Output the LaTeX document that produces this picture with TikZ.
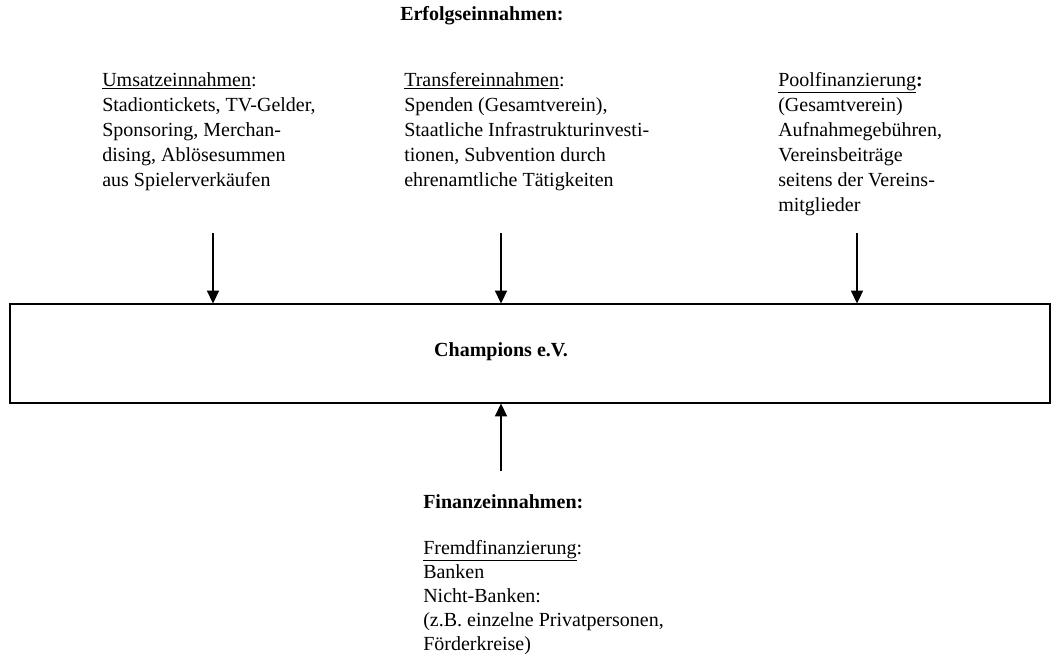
\documentclass[tikz,border=0pt]{standalone}
\usepackage{fontspec}
\setmainfont{Liberation Serif}
\usepackage{tikz}
\usetikzlibrary{arrows.meta, positioning, calc}
\tikzset{
    txt/.style={anchor=north west, inner sep=0pt, align=left,
                font=\fontsize{15}{18.75}\selectfont},
    head/.style={anchor=north west, inner sep=0pt,
                 font=\fontsize{15}{18.75}\selectfont\bfseries},
    frame/.style={rectangle, draw=black, line width=0.9pt, inner sep=0pt},
    arrow/.style={-{Triangle[length=9.5pt, width=9pt]}, line width=1.2pt, draw=black}
}

\begin{document}
\begin{tikzpicture}[x=0.75pt, y=-0.75pt]
  \useasboundingbox (0,0) rectangle (1061,660);

  % --- Erfolgseinnahmen ---
  \node[head] (erfolg) at (400,6) {Erfolgseinnahmen:};

  \node[txt] (umsatz) at (102,72)
        {\underline{Umsatzeinnahmen}:\\
         Stadiontickets, TV-Gelder,\\
         Sponsoring, Merchan-\\
         dising, Ablösesummen\\
         aus Spielerverkäufen};
  \node[txt] (transfer) at (404,72)
        {\underline{Transfereinnahmen}:\\
         Spenden (Gesamtverein),\\
         Staatliche Infrastrukturinvesti-\\
         tionen, Subvention durch\\
         ehrenamtliche Tätigkeiten};
  \node[txt] (pool) at (778,72)
        {\underline{Poolfinanzierung}\textbf{:}\\
         (Gesamtverein)\\
         Aufnahmegebühren,\\
         Vereinsbeiträge\\
         seitens der Vereins-\\
         mitglieder};

  % --- Verein ---
  \node[frame, minimum width=780pt, minimum height=74.25pt] (verein) at (530,353.5) {};
  \node[font=\fontsize{15}{18}\selectfont\bfseries, inner sep=0pt] (name) at (501,352) {Champions e.V.};

  % --- Finanzeinnahmen ---
  \node[head] (finanz) at (423,494) {Finanzeinnahmen:};
  \node[txt, font=\fontsize{15}{18}\selectfont] (fremd) at (423,540)
        {\underline{Fremdfinanzierung}:\\
         Banken\\
         Nicht-Banken:\\
         (z.B. einzelne Privatpersonen,\\
         Förderkreise)};

  % --- Arrows ---
  \coordinate (u) at (213,233);
  \coordinate (t) at (501,233);
  \coordinate (p) at (857,233);
  \coordinate (f) at (501,471);
  \draw[arrow] (u) -- (u |- verein.north);
  \draw[arrow] (t) -- (t |- verein.north);
  \draw[arrow] (p) -- (p |- verein.north);
  \draw[arrow] (f) -- (f |- verein.south);

\end{tikzpicture}
\end{document}
